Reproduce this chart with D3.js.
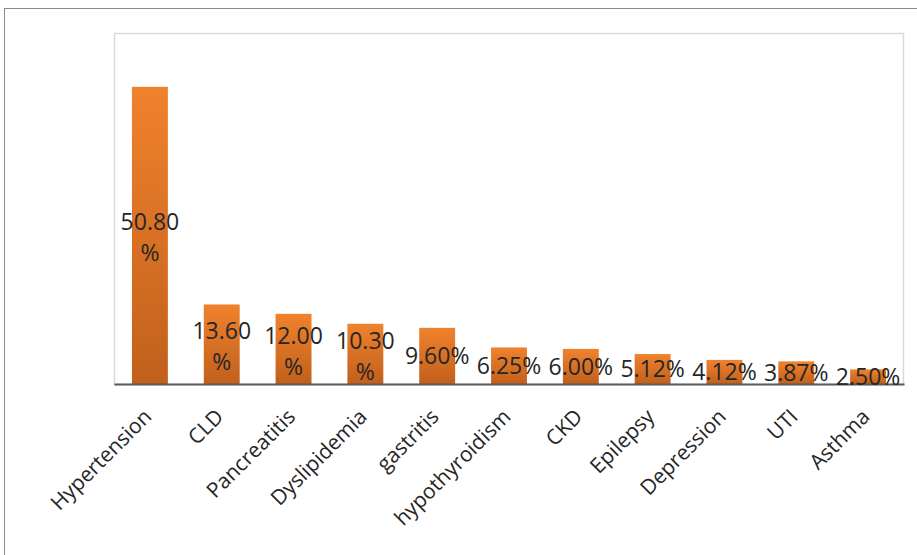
<!DOCTYPE html>
<html>
<head>
<meta charset="utf-8">
<script src="https://cdn.jsdelivr.net/npm/d3@7"></script>
<style>
  html, body { margin: 0; padding: 0; background: #fff; }
  svg { display: block; }
</style>
</head>
<body>
<svg id="chart" width="917" height="555"></svg>
<script>
// Comorbidity prevalence among patients (%)
const categories = ["Hypertension", "CLD", "Pancreatitis", "Dyslipidemia", "gastritis",
  "hypothyroidism", "CKD", "Epilepsy", "Depression", "UTI", "Asthma"];
const values = [50.80, 13.60, 12.00, 10.30, 9.60, 6.25, 6.00, 5.12, 4.12, 3.87, 2.50];
const valueLabels = ["50.80%", "13.60%", "12.00%", "10.30%", "9.60%", "6.25%",
  "6.00%", "5.12%", "4.12%", "3.87%", "2.50%"];
const yDomain = [0, 60];

const svg = d3.select("#chart");
const W = 917, H = 555;
const plot = { left: 114, top: 33, right: 904, bottom: 384 };
const font = "'Open Sans', 'Noto Sans', sans-serif";

// outer frame
svg.append("rect")
  .attr("x", 4.5).attr("y", 8.5)
  .attr("width", W + 10).attr("height", H + 10)
  .attr("fill", "#fff").attr("stroke", "#8c8c8c").attr("stroke-width", 1);

// plot-area frame
svg.append("rect")
  .attr("x", plot.left + 0.5).attr("y", plot.top + 0.5)
  .attr("width", plot.right - plot.left - 1).attr("height", plot.bottom - plot.top)
  .attr("fill", "none").attr("stroke", "#d9d9d9").attr("stroke-width", 1.5);

const x = d3.scaleBand().domain(categories)
  .range([plot.left, plot.right]).paddingInner(0.5).paddingOuter(0.25);
const y = d3.scaleLinear().domain(yDomain).range([plot.bottom, plot.top]);

const defs = svg.append("defs");
const grad = defs.append("linearGradient").attr("id", "barGrad")
  .attr("x1", 0).attr("y1", 0).attr("x2", 0).attr("y2", 1);
grad.append("stop").attr("offset", "0%").attr("stop-color", "#f0822c");
grad.append("stop").attr("offset", "100%").attr("stop-color", "#c1601c");

const data = categories.map((c, i) => ({ c, v: values[i], label: valueLabels[i] }));

svg.append("g").selectAll("rect").data(data).enter().append("rect")
  .attr("x", d => x(d.c))
  .attr("y", d => y(d.v))
  .attr("width", x.bandwidth())
  .attr("height", d => y(0) - y(d.v))
  .attr("fill", "url(#barGrad)");

// category axis
const xAxis = svg.append("g")
  .attr("transform", `translate(0,${plot.bottom})`)
  .call(d3.axisBottom(x).tickSize(0).tickSizeOuter(0));
xAxis.select(".domain").attr("stroke", "#595959").attr("stroke-width", 2);
xAxis.selectAll(".tick text")
  .attr("font-family", font).attr("font-size", 21).attr("fill", "#262626")
  .attr("text-anchor", "end")
  .attr("dy", null).attr("y", 0)
  .attr("transform", "translate(3,34) rotate(-45)");

// value labels, centred in each bar; wrapped when wider than the category slot
const step = x.step();
const lbl = svg.append("g").selectAll("text").data(data).enter().append("text")
  .attr("font-family", font).attr("font-size", 23).attr("fill", "#262626")
  .attr("text-anchor", "middle")
  .attr("x", d => x(d.c) + x.bandwidth() / 2)
  .attr("y", d => (y(d.v) + y(0)) / 2)
  .attr("dy", "0.35em")
  .text(d => d.label);

lbl.each(function (d) {
  const t = d3.select(this);
  if (this.getComputedTextLength() > step) {
    const cx = x(d.c) + x.bandwidth() / 2;
    const cy = (y(d.v) + y(0)) / 2;
    const num = d.label.replace("%", "");
    t.text(null).attr("dy", null);
    t.append("tspan").attr("x", cx).attr("y", cy - 13).attr("dy", "0.35em").text(num);
    t.append("tspan").attr("x", cx).attr("y", cy + 18).attr("dy", "0.35em").text("%");
  }
});
</script>
</body>
</html>
